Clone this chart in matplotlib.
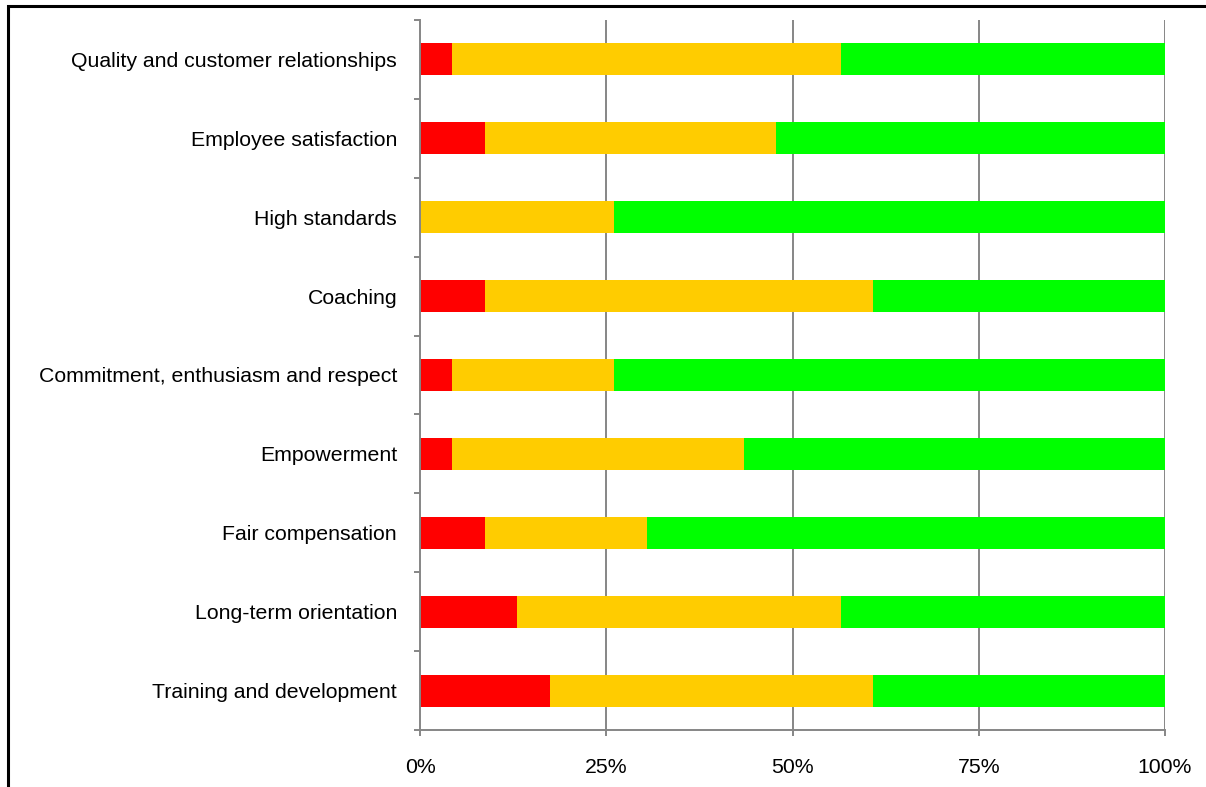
import matplotlib
matplotlib.use("Agg")
import matplotlib.pyplot as plt
from matplotlib.patches import Rectangle
from matplotlib.ticker import FixedLocator

categories = [
    "Quality and customer relationships",
    "Employee satisfaction",
    "High standards",
    "Coaching",
    "Commitment, enthusiasm and respect",
    "Empowerment",
    "Fair compensation",
    "Long-term orientation",
    "Training and development",
]
red = [4.35, 8.70, 0.0, 8.70, 4.35, 4.35, 8.70, 13.04, 17.39]
yellow = [52.17, 39.13, 26.09, 52.17, 21.74, 39.13, 21.74, 43.48, 43.48]
green = [43.48, 52.17, 73.91, 39.13, 73.91, 56.52, 69.56, 43.48, 39.13]
xticks = [0, 25, 50, 75, 100]
xticklabels = ["0%", "25%", "50%", "75%", "100%"]

plt.rcParams['font.family'] = ['Liberation Sans', 'DejaVu Sans']

fig = plt.figure(figsize=(12.06, 7.87), dpi=100)
ax = fig.add_axes([420/1206, 1-730/787, 745/1206, 710/787])

n = len(categories)
ypos = list(range(n))[::-1]
h = 0.405
left2 = [r + y for r, y in zip(red, yellow)]
ax.barh(ypos, red, height=h, color="#FF0000", zorder=3)
ax.barh(ypos, yellow, left=red, height=h, color="#FFCC00", zorder=3)
ax.barh(ypos, green, left=left2, height=h, color="#00FF00", zorder=3)

fs = 15.3
ax.set_xlim(0, 100)
ax.set_ylim(-0.5, n - 0.5)
ax.set_xticks(xticks)
ax.set_xticklabels(xticklabels, fontsize=fs)
ax.set_yticks(ypos)
ax.set_yticklabels(categories, fontsize=fs)
ax.yaxis.set_minor_locator(FixedLocator([i - 0.5 for i in range(n + 1)]))

gc = "#868686"
for x in xticks[1:]:
    ax.axvline(x, color=gc, lw=1.4, zorder=1)
for s in ["top", "right"]:
    ax.spines[s].set_visible(False)
for s in ["left", "bottom"]:
    ax.spines[s].set_color(gc)
    ax.spines[s].set_linewidth(1.4)
    ax.spines[s].set_zorder(4)

ax.tick_params(axis="y", which="major", length=0, pad=16.5)
ax.tick_params(axis="y", which="minor", length=4, width=1.4, color=gc)
ax.tick_params(axis="x", which="major", length=4, width=1.4, color=gc, pad=16)

fig.patches.append(Rectangle((8/1206, -0.1), 1.2, 1 - 6/787 + 0.1,
                             transform=fig.transFigure, fill=False,
                             edgecolor="black", lw=2.2, zorder=10))

fig.savefig("out.png", dpi=100)
